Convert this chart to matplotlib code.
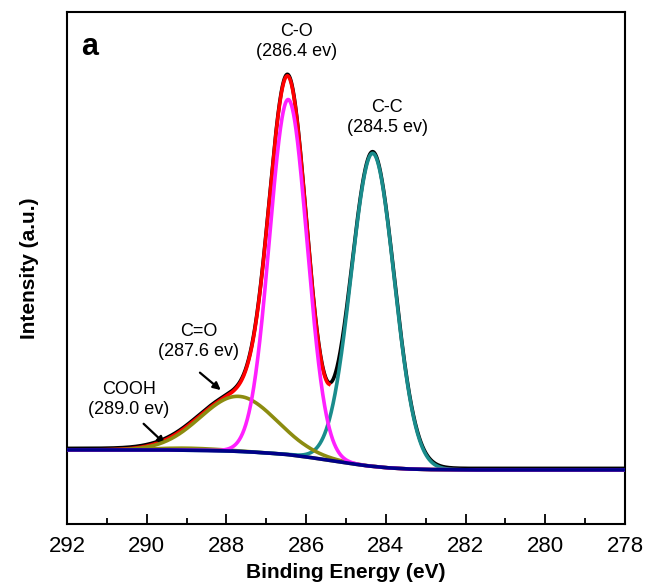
import numpy as np
import matplotlib
matplotlib.use("Agg")
import matplotlib.pyplot as plt

plt.rcParams['font.family'] = ['Liberation Sans', 'DejaVu Sans']

# Fitted components (centre eV, height a.u., sigma eV)
comp_names = ["C-C", "C-O", "C=O", "COOH"]
comp_centers = [284.33, 286.45, 287.70, 289.00]
comp_heights = [313.0, 355.0, 55.0, 2.0]
comp_sigmas = [0.54, 0.47, 0.95, 0.80]
comp_colors = ["#1A8C8C", "#FF20FF", "#8C8C10", "#8C8C10"]

# Shirley-type background
bg_energy = [292.0, 291.0, 290.0, 289.5, 289.0, 288.5, 288.0, 287.5, 287.0,
             286.5, 286.0, 285.5, 285.0, 284.5, 284.0, 283.5, 283.0, 282.0,
             280.0, 278.0]
bg_value = [20.0, 20.0, 20.0, 19.9, 19.7, 19.4, 19.0, 18.2, 17.0,
            15.5, 13.0, 10.0, 7.0, 4.2, 2.2, 1.0, 0.4, 0.0,
            0.0, 0.0]

# Peak labels
label_texts = ["C-O\n(286.4 ev)", "C-C\n(284.5 ev)", "C=O\n(287.6 ev)", "COOH\n(289.0 ev)"]
label_x = [286.25, 283.97, 288.70, 290.45]
label_y = [428, 352, 128, 70]

x_ticks = [292, 290, 288, 286, 284, 282, 280, 278]

E = np.linspace(292, 278, 1400)
bg = np.interp(E[::-1], bg_energy[::-1], bg_value[::-1])[::-1]

comps = []
for c, h, s in zip(comp_centers, comp_heights, comp_sigmas):
    comps.append(h * np.exp(-(E - c) ** 2 / (2 * s ** 2)))
envelope = bg + np.sum(comps, axis=0)

fig = plt.figure(figsize=(6.45, 5.88), dpi=100)
ax = fig.add_axes([0.104, 0.109, 0.865, 0.871])

lw = 2.6
# measured data (black)
ax.plot(E, envelope + 1.5, color="black", lw=lw, zorder=2)
# fit envelope (red)
mask = E >= 285.42
ax.plot(E[mask], envelope[mask], color="#FF0000", lw=lw, zorder=3)
# components
order_z = [4, 5, 4, 1]
for comp, col, z in zip(comps, comp_colors, order_z):
    ax.plot(E, bg + comp, color=col, lw=lw, zorder=z)
# background
ax.plot(E, bg, color="#000088", lw=lw, zorder=6)

ax.set_xlim(292, 278)
ax.set_ylim(-54, 458)
ax.set_xticks(x_ticks)
ax.set_xticks(np.arange(291, 278, -2), minor=True)
ax.set_yticks([])
ax.tick_params(axis='x', which='major', direction='in', length=7, width=1.3,
               labelsize=16, pad=9)
ax.tick_params(axis='x', which='minor', direction='in', length=4, width=1.3)
for sp in ax.spines.values():
    sp.set_linewidth(1.5)

ax.set_xlabel("Binding Energy (eV)", fontsize=15, fontweight='bold', labelpad=4)
ax.set_ylabel("Intensity (a.u.)", fontsize=15, fontweight='bold', labelpad=20)

ax.text(0.026, 0.96, "a", transform=ax.transAxes, fontsize=22,
        fontweight='bold', va='top', ha='left')

for t, x, y in zip(label_texts, label_x, label_y):
    ax.text(x, y, t, ha='center', va='center', fontsize=13, linespacing=1.25)

arrow_kw = dict(arrowstyle="-|>", color="black", lw=1.6, mutation_scale=11)
ax.annotate("", xy=(288.09, 78), xytext=(288.72, 99), arrowprops=arrow_kw)
ax.annotate("", xy=(289.49, 24), xytext=(290.13, 48), arrowprops=arrow_kw)

fig.savefig("out.png", dpi=100)
